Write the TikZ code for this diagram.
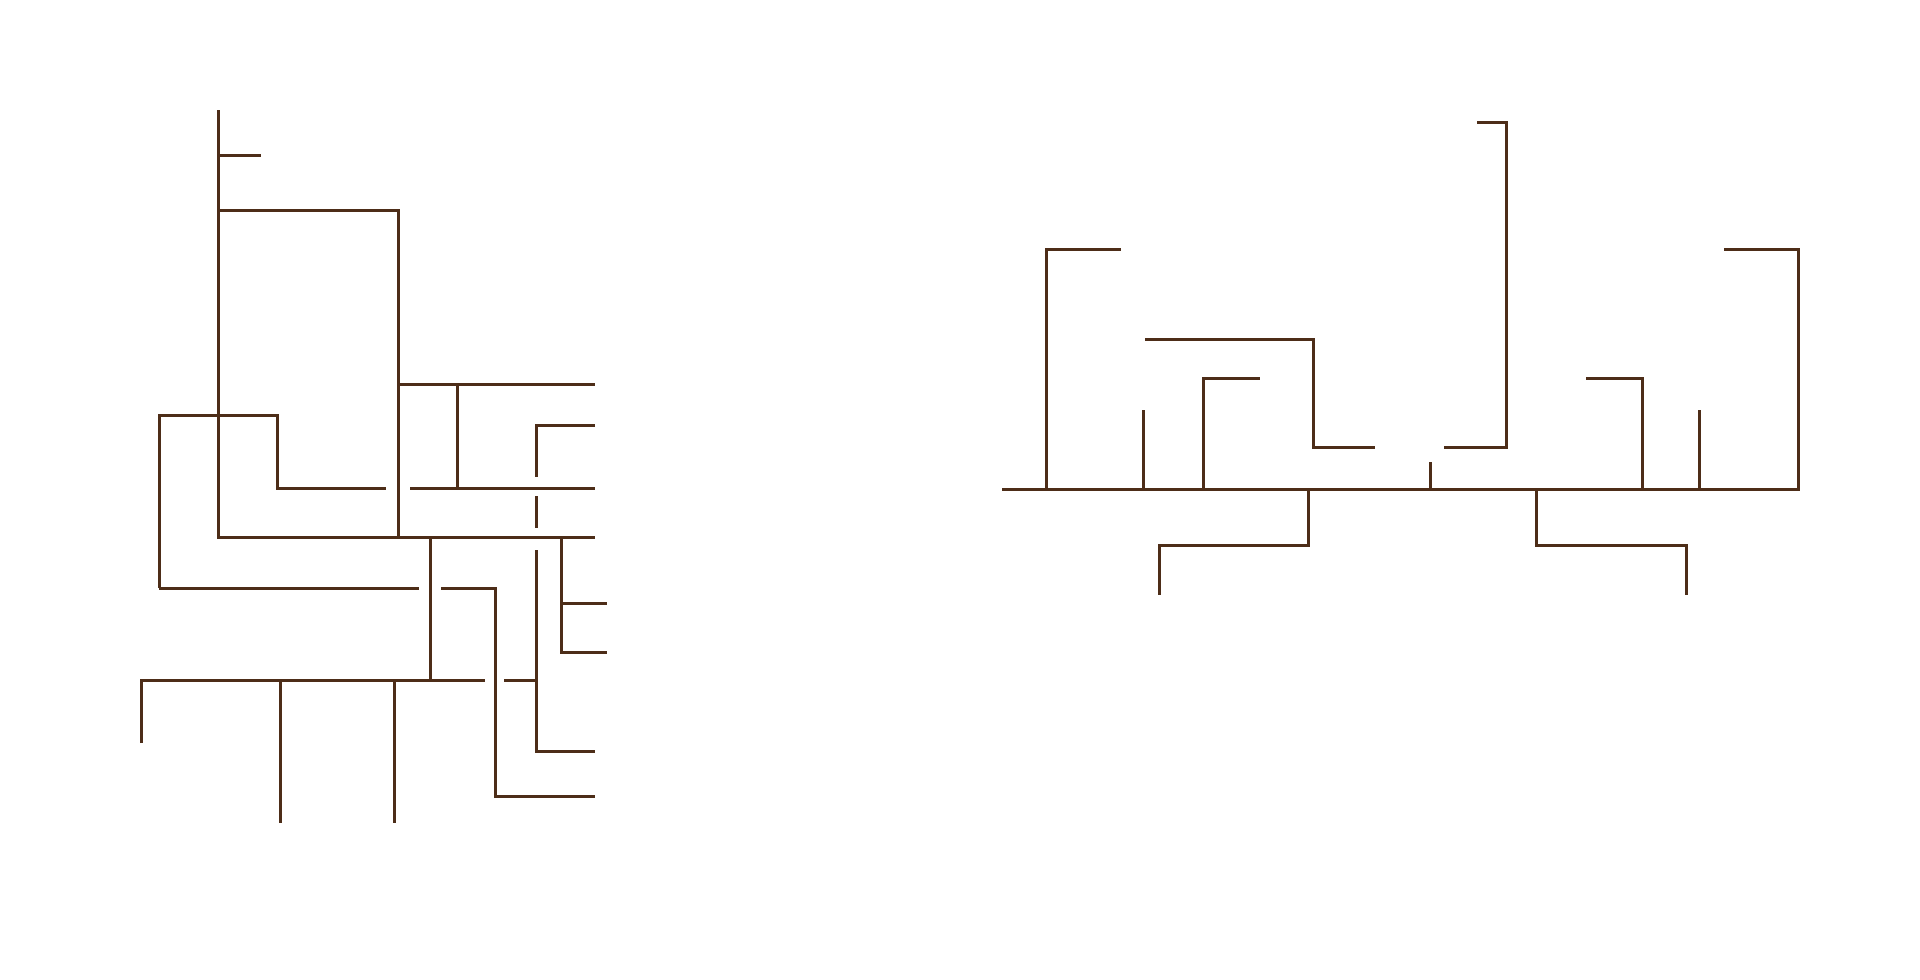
\documentclass[tikz,border=0pt]{standalone}
\definecolor{brn}{RGB}{77,45,24}
\begin{document}
\begin{tikzpicture}[x=1pt,y=-1pt,ln/.style={draw=brn,line width=3pt}]
\useasboundingbox (0,0) rectangle (1920,980);
% ---------- left figure ----------
\draw[ln] (218,110) -- (218,537) -- (595,537);
\draw[ln] (218,155) -- (261,155);
\draw[ln] (218,210) -- (398,210) -- (398,537);
\draw[ln] (398,384) -- (595,384);
\draw[ln] (457,384) -- (457,488);
\draw[ln] (159,588) -- (159,415) -- (277,415) -- (277,488) -- (386,488);
\draw[ln] (159,588) -- (419,588);
\draw[ln] (410,488) -- (595,488);
\draw[ln] (595,425) -- (536,425) -- (536,477);
\draw[ln] (536,496) -- (536,528);
\draw[ln] (430,537) -- (430,680);
\draw[ln] (441,588) -- (495,588) -- (495,796) -- (595,796);
\draw[ln] (561,537) -- (561,652) -- (607,652);
\draw[ln] (561,603) -- (607,603);
\draw[ln] (536,550) -- (536,751) -- (595,751);
\draw[ln] (141,743) -- (141,680) -- (485,680);
\draw[ln] (504,680) -- (536,680);
\draw[ln] (280,680) -- (280,823);
\draw[ln] (394,680) -- (394,823);
% ---------- right figure ----------
\draw[ln] (1002,489) -- (1798,489) -- (1798,249) -- (1724,249);
\draw[ln] (1046,489) -- (1046,249) -- (1121,249);
\draw[ln] (1143,489) -- (1143,410);
\draw[ln] (1203,489) -- (1203,378) -- (1260,378);
\draw[ln] (1145,339) -- (1313,339) -- (1313,447) -- (1375,447);
\draw[ln] (1477,122) -- (1506,122) -- (1506,447) -- (1444,447);
\draw[ln] (1430,489) -- (1430,462);
\draw[ln] (1308,489) -- (1308,545) -- (1159,545) -- (1159,595);
\draw[ln] (1536,489) -- (1536,545) -- (1686,545) -- (1686,595);
\draw[ln] (1642,489) -- (1642,378) -- (1586,378);
\draw[ln] (1699,489) -- (1699,410);
\end{tikzpicture}
\end{document}
